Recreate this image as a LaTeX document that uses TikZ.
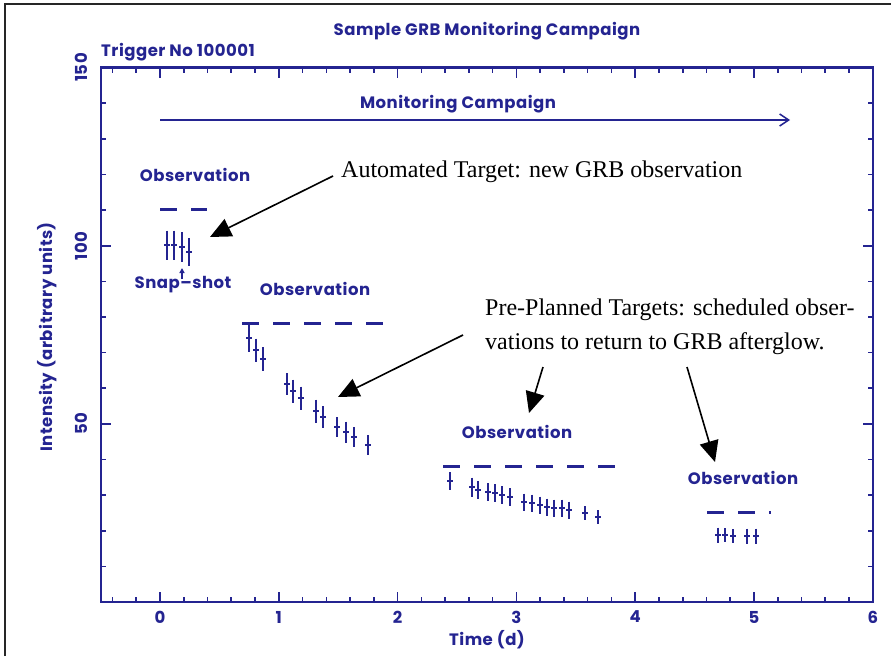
\documentclass[tikz,border=0pt]{standalone}
\usepackage{fontspec}
\setmainfont{Liberation Serif}
\newfontfamily\plotfont{Poppins}[LetterSpace=3]
\usetikzlibrary{arrows.meta}
\definecolor{plotblue}{RGB}{36,36,145}

\begin{document}
\begin{tikzpicture}[x=1pt, y=-1pt,
  axis/.style={plotblue, line width=2.2pt, line cap=rect},
  tickmark/.style={plotblue, line width=1.6pt},
  ebar/.style={plotblue, line width=2.3pt},
  ecross/.style={plotblue, line width=1.4pt},
  obsdash/.style={plotblue, line width=3pt, dash pattern=on 17pt off 14pt},
  plotlabel/.style={font=\plotfont\bfseries\fontsize{16.5}{20}\selectfont, text=plotblue, inner sep=0pt},
  note/.style={font=\fontsize{24}{34}\selectfont, inner sep=0pt},
  annot/.style={-{Triangle[length=21pt,width=19pt]}, line width=1.6pt, black},
]
\useasboundingbox (0,0) rectangle (891,656);
\fill[white] (0,0) rectangle (891,656);

% partial page frame
\draw[line width=2pt, black!85] (5,656) -- (5,4) -- (891,4);

% plot frame
\draw[axis] (100.6,67.5) rectangle (872.8,602);

% x ticks (bottom and top)
\foreach \t in {-0.4,-0.2,...,5.81} {
  \draw[tickmark] ({160+118.8*\t},602) -- ++(0,-5);
  \draw[tickmark] ({160+118.8*\t},67.5) -- ++(0,5);
}
\foreach \t in {0,...,5} {
  \draw[tickmark] ({160+118.8*\t},602) -- ++(0,-10);
  \draw[tickmark] ({160+118.8*\t},67.5) -- ++(0,10);
}
% y ticks (left and right)
\foreach \v in {10,20,...,140} {
  \draw[tickmark] (100.6,{602-3.563*\v}) -- ++(5,0);
  \draw[tickmark] (872.8,{602-3.563*\v}) -- ++(-5,0);
}
\foreach \v in {50,100} {
  \draw[tickmark] (100.6,{602-3.563*\v}) -- ++(10,0);
  \draw[tickmark] (872.8,{602-3.563*\v}) -- ++(-10,0);
}

% tick labels
\foreach \t in {0,...,6}
  \node[plotlabel] (xl\t) at ({160+118.8*\t},617) {\t};
\foreach \v in {50,100,150}
  \node[plotlabel, rotate=90] (yl\v) at (81,{602-3.563*\v}) {\v};

% titles and axis labels
\node[plotlabel] (title) at (487,31) {Sample GRB Monitoring Campaign};
\node[plotlabel, anchor=west] (trigger) at (101,52) {Trigger No 100001};
\node[plotlabel] (xlabel) at (487,640) {Time (d)};
\node[plotlabel, rotate=90] (ylabel) at (47,337) {Intensity (arbitrary units)};

% monitoring campaign arrow
\node[plotlabel] (campaign) at (458,104) {Monitoring Campaign};
\coordinate (camp0) at (160,120);
\coordinate (camp1) at (790,120);
\draw[plotblue, line width=1.5pt, -{Straight Barb[length=9pt,width=12pt]}] (camp0) -- (camp1);

% observation windows
\node[plotlabel] (obs1) at (195,175) {Observation};
\node[plotlabel] (obs2) at (315,289) {Observation};
\node[plotlabel] (obs3) at (517,432) {Observation};
\node[plotlabel] (obs4) at (743,478) {Observation};
\draw[obsdash] (160,209) -- (207,209);
\draw[obsdash] (242,323) -- (384,323);
\draw[obsdash] (443,466) -- (617,466);
\draw[obsdash] (707,512) -- (771,512);

% error bars: x / centre / half length
\foreach \x/\y/\h in {
  167/245/14.5, 174/245/14.5, 182/247/15, 189/252/14,
  249/338/14, 256/350/11.5, 263/359/12, 287/384/11, 293/391/11.5, 301/398/11.5,
  316/411/11.5, 323/417/11, 337/427/10, 346/432/10.5, 354/437/10, 368/445/10,
  450/481/9, 472/487/9.5, 478/490/9, 488/492/9, 495/493/9, 502/495/9, 510/497/9,
  524/502/8.5, 532/503/8.5, 540/505/8.5, 547/507/8.5, 554/508/8.5, 562/508/8.5,
  569/510/8.5, 585/513/7, 598/517/7,
  718/535/7.5, 725/535/7, 733/536/7, 747/536/7.5, 756/536/7.5} {
  \draw[ebar] (\x,\y-\h) -- (\x,\y+\h);
  \draw[ecross] (\x-3,\y) -- (\x+3,\y);
}
\draw[ebar] (244,324) -- (254,324);

% snap-shot marker
\node[plotlabel] (snap) at (183,285) {Snap–shot};
\coordinate (snap0) at (182,279);
\coordinate (snap1) at (182,268);
\draw[plotblue, line width=1.4pt, -{Triangle[length=5pt,width=5pt]}] (snap0) -- (snap1);

% annotations
\node[note, anchor=base west] (auto) at (341,177) {Automated Target: new GRB observation};
\node[note, anchor=base west] (pre1) at (485,315) {Pre-Planned Targets: scheduled obser-};
\node[note, anchor=base west] (pre2) at (485,349) {vations to return to GRB afterglow.};

\coordinate (a1s) at (333,176);  \coordinate (a1e) at (210,237);
\coordinate (a2s) at (463,335);  \coordinate (a2e) at (338,397);
\coordinate (a3s) at (543,367);  \coordinate (a3e) at (529,413);
\coordinate (a4s) at (687,367);  \coordinate (a4e) at (715,462);
\draw[annot] (a1s) -- (a1e);
\draw[annot] (a2s) -- (a2e);
\draw[annot] (a3s) -- (a3e);
\draw[annot] (a4s) -- (a4e);
\end{tikzpicture}
\end{document}
